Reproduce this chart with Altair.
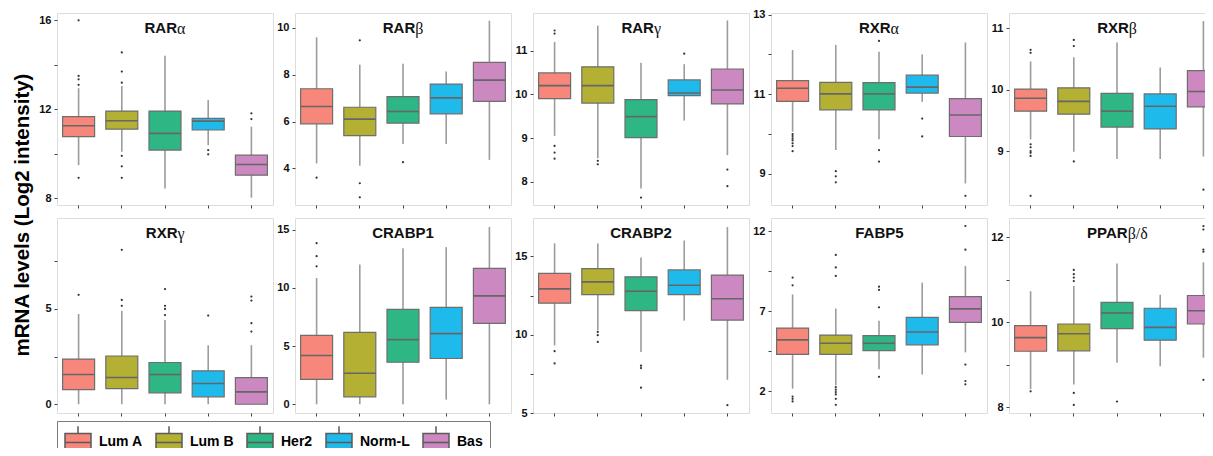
import altair as alt
import pandas as pd

subtypes = ["Lum A", "Lum B", "Her2", "Norm-L", "Bas"]
colors = ["#F7877A", "#B3B034", "#2EB684", "#1FBAEC", "#CC88C1"]

genes = ["RARα", "RARβ", "RARγ", "RXRα", "RXRβ",
         "RXRγ", "CRABP1", "CRABP2", "FABP5", "PPARβ/δ"]
# title split: Latin part (bold sans) + Greek part (serif)
title_latin = ["RAR", "RAR", "RAR", "RXR", "RXR", "RXR", "CRABP1", "CRABP2", "FABP5", "PPAR"]
title_greek = ["α", "β", "γ", "α", "β", "γ", "", "", "", "β/δ"]

y_title = "mRNA levels (Log2 intensity)"

# whisker low / Q1 / median / Q3 / whisker high, in subtype order
lo = {
    "RARα": [9.49, 10.09, 8.44, 10.39, 8.03],
    "RARβ": [4.21, 4.11, 5.04, 5.04, 4.36],
    "RARγ": [9.05, 8.54, 7.85, 9.40, 8.61],
    "RXRα": [10.06, 9.60, 9.87, 10.81, 8.76],
    "RXRβ": [9.19, 8.99, 8.87, 8.87, 8.91],
    "RXRγ": [0.0, 0.0, 0.0, 0.0, 0.0],
    "CRABP1": [0.0, 0.0, 0.0, 0.4, 0.0],
    "CRABP2": [9.32, 10.29, 8.89, 10.90, 7.12],
    "FABP5": [2.17, 2.38, 3.39, 3.05, 4.44],
    "PPARβ/δ": [8.43, 8.54, 9.05, 8.97, 9.17],
}
q1 = {
    "RARα": [10.77, 11.11, 10.17, 11.07, 9.04],
    "RARβ": [5.90, 5.40, 5.93, 6.33, 6.86],
    "RARγ": [9.90, 9.80, 9.01, 9.97, 9.78],
    "RXRα": [10.82, 10.61, 10.61, 11.03, 9.94],
    "RXRβ": [9.65, 9.60, 9.39, 9.36, 9.72],
    "RXRγ": [0.77, 0.82, 0.60, 0.39, 0.0],
    "CRABP1": [2.14, 0.64, 3.61, 3.93, 6.94],
    "CRABP2": [12.02, 12.56, 11.54, 12.56, 10.94],
    "FABP5": [4.32, 4.32, 4.55, 4.91, 6.32],
    "PPARβ/δ": [9.32, 9.33, 9.85, 9.58, 9.96],
}
med = {
    "RARα": [11.26, 11.49, 10.92, 11.47, 9.52],
    "RARβ": [6.64, 6.10, 6.43, 7.01, 7.77],
    "RARγ": [10.20, 10.20, 9.49, 10.03, 10.10],
    "RXRα": [11.15, 11.01, 11.01, 11.18, 10.48],
    "RXRβ": [9.86, 9.81, 9.65, 9.73, 9.97],
    "RXRγ": [1.56, 1.40, 1.56, 1.09, 0.65],
    "CRABP1": [4.19, 2.66, 5.55, 6.07, 9.31],
    "CRABP2": [12.93, 13.38, 12.78, 13.16, 12.30],
    "FABP5": [5.22, 5.01, 5.01, 5.71, 7.16],
    "PPARβ/δ": [9.64, 9.73, 10.22, 9.88, 10.27],
}
q3 = {
    "RARα": [11.67, 11.92, 11.92, 11.59, 9.94],
    "RARβ": [7.40, 6.61, 7.06, 7.60, 8.53],
    "RARγ": [10.49, 10.63, 9.88, 10.33, 10.58],
    "RXRα": [11.34, 11.30, 11.29, 11.48, 10.89],
    "RXRβ": [10.01, 10.03, 9.94, 9.93, 10.31],
    "RXRγ": [2.37, 2.53, 2.19, 1.75, 1.40],
    "CRABP1": [5.92, 6.18, 8.15, 8.32, 11.68],
    "CRABP2": [13.92, 14.22, 13.70, 14.14, 13.81],
    "FABP5": [5.96, 5.52, 5.49, 6.63, 7.92],
    "PPARβ/δ": [9.92, 9.96, 10.47, 10.33, 10.63],
}
hi = {
    "RARα": [12.95, 13.05, 14.41, 12.42, 11.22],
    "RARβ": [9.60, 8.43, 8.47, 8.14, 10.31],
    "RARγ": [11.20, 11.57, 10.72, 10.69, 11.69],
    "RXRα": [12.11, 12.24, 12.07, 12.00, 12.30],
    "RXRβ": [10.46, 10.53, 10.77, 10.36, 11.12],
    "RXRγ": [4.74, 4.91, 4.42, 3.10, 3.10],
    "CRABP1": [10.84, 12.00, 13.41, 13.50, 15.23],
    "CRABP2": [15.84, 15.84, 14.94, 16.02, 16.88],
    "FABP5": [8.06, 7.18, 6.42, 8.80, 9.85],
    "PPARβ/δ": [10.73, 10.85, 11.38, 10.65, 11.41],
}
outliers = {
    "RARα": [[16.0, 13.5, 13.35, 13.1, 8.92], [14.56, 13.7, 13.2, 9.91, 9.44, 8.92], [], [10.17, 9.98], [11.82, 11.56]],
    "RARβ": [[3.6], [9.47, 3.36, 2.76], [4.26], [], []],
    "RARγ": [[11.46, 11.39, 8.82, 8.67, 8.53], [8.48, 8.4], [7.64], [10.93], [8.28, 7.9]],
    "RXRα": [[10.0, 9.95, 9.89, 9.84, 9.77, 9.7, 9.57], [9.07, 8.94, 8.79], [12.34, 9.6, 9.31], [10.39, 9.94], [8.45]],
    "RXRβ": [[10.65, 10.6, 9.11, 9.06, 9.0, 8.97, 8.92, 8.27], [10.81, 10.71, 8.83], [], [], [8.37]],
    "RXRγ": [[5.74], [8.1, 5.47, 5.16], [6.04, 5.16, 5.0, 4.68], [4.65], [5.65, 5.44, 4.25, 3.81]],
    "CRABP1": [[13.84, 12.72, 11.85], [], [], [], []],
    "CRABP2": [[8.95, 8.17], [10.18, 9.97, 9.54], [8.02, 7.87, 6.62], [], [5.5]],
    "FABP5": [[9.12, 8.63, 1.68, 1.54, 1.37], [10.53, 9.75, 9.22, 2.27, 2.11, 1.96, 1.81, 1.54, 1.16],
              [8.55, 8.34, 7.26, 2.91], [], [12.34, 10.86, 3.68, 2.65, 2.44]],
    "PPARβ/δ": [[8.38], [11.23, 11.13, 11.05, 10.97, 8.34, 8.06], [8.14], [], [12.26, 12.18, 11.71, 11.66, 8.65]],
}

domains = {
    "RARα": [7.7, 16.33], "RARβ": [2.43, 10.64], "RARγ": [7.47, 11.86],
    "RXRα": [8.22, 13.04], "RXRβ": [8.12, 11.25], "RXRγ": [-0.46, 9.77],
    "CRABP1": [-0.75, 16.0], "CRABP2": [5.0, 17.46], "FABP5": [0.65, 12.84],
    "PPARβ/δ": [7.87, 12.45],
}
tick_values = {
    "RARα": [8, 10, 12, 14, 16], "RARβ": [4, 6, 8, 10], "RARγ": [8, 9, 10, 11],
    "RXRα": [9, 10, 11, 12, 13], "RXRβ": [9, 10, 11], "RXRγ": [0, 2.5, 5, 7.5],
    "CRABP1": [0, 5, 10, 15], "CRABP2": [5, 7.5, 10, 12.5, 15],
    "FABP5": [2, 4.5, 7, 9.5, 12], "PPARβ/δ": [8, 9, 10, 11, 12],
}
tick_labels = {
    "RARα": [8, 12, 16], "RARβ": [4, 6, 8, 10], "RARγ": [8, 9, 10, 11],
    "RXRα": [9, 11, 13], "RXRβ": [9, 10, 11], "RXRγ": [0, 5],
    "CRABP1": [0, 5, 10, 15], "CRABP2": [5, 10, 15],
    "FABP5": [2, 7, 12], "PPARβ/δ": [8, 10, 12],
}

FONT = "Liberation Sans"
GFONT = "Liberation Serif"
W = 216
ROW_H = [192, 195]
TFS, GFS = 15, 16

# approximate advance widths (em) used only to centre the two-part titles
BOLD_W = {"R": .722, "A": .722, "X": .667, "P": .667, "C": .722, "B": .722,
          "F": .611, "1": .556, "2": .556, "5": .556}
SERIF_W = {"α": .53, "β": .50, "γ": .42, "δ": .49, "/": .28}

legend = alt.Legend(
    orient="none", legendX=0, legendY=408, direction="horizontal", columns=5,
    title=None,
    symbolType="M-1,-0.69H1V0.69H-1Z M-1,0H1 M0,-0.69V-1.25 M0,0.69V1.25",
    symbolSize=676, symbolStrokeColor="#5a5a5a", symbolStrokeWidth=1.5,
    symbolOpacity=1,
    labelFont=FONT, labelFontSize=14, labelFontWeight="bold", labelColor="black",
    labelOffset=7, columnPadding=10, padding=7,
    strokeColor="#7a7a7a", fillColor="white",
)


def panel(i):
    g = genes[i]
    H = ROW_H[i // 5]
    box = pd.DataFrame({"subtype": subtypes, "lo": lo[g], "q1": q1[g],
                        "med": med[g], "q3": q3[g], "hi": hi[g]})
    rows = [(s, v) for s, vals in zip(subtypes, outliers[g]) for v in vals]
    outs = pd.DataFrame(rows, columns=["subtype", "value"])
    labs = ",".join(str(v) for v in tick_labels[g])
    x = alt.X("subtype:N", scale=alt.Scale(domain=subtypes),
              axis=alt.Axis(labels=False, title=None, domain=False, ticks=True,
                            tickSize=3, tickColor="#444", grid=False))
    ys = alt.Scale(domain=domains[g], nice=False, zero=False)
    ya = alt.Axis(values=tick_values[g], title=None, grid=False, domain=False,
                  tickSize=3, tickColor="#444", labelFontWeight="bold",
                  labelFontSize=11, labelFont=FONT, labelColor="#111",
                  labelPadding=3,
                  labelExpr="indexof([" + labs + "], datum.value) >= 0 ? datum.label : ''")
    base = alt.Chart(box)
    whisk = base.mark_rule(color="#9c9c9c", strokeWidth=1.6).encode(
        x=x, y=alt.Y("lo:Q", scale=ys, axis=ya), y2="hi:Q")
    bars = base.mark_bar(size=32, stroke="#6e6e6e", strokeWidth=1.2).encode(
        x=x, y=alt.Y("q1:Q", scale=ys, axis=ya), y2="q3:Q",
        color=alt.Color("subtype:N", scale=alt.Scale(domain=subtypes, range=colors),
                        legend=legend if i == 0 else None))
    mline = base.mark_tick(size=32, thickness=1.6, color="#666666", opacity=1).encode(
        x=x, y=alt.Y("med:Q", scale=ys, axis=ya))
    pts = alt.Chart(outs).mark_circle(size=5, color="#333333", opacity=1).encode(
        x=x, y=alt.Y("value:Q", scale=ys, axis=ya))

    lat, grk = title_latin[i], title_greek[i]
    wl = sum(BOLD_W.get(c, .6) for c in lat) * TFS
    wg = sum(SERIF_W.get(c, .5) for c in grk) * GFS
    xs = W / 2 + (wl - wg) / 2
    t1 = alt.Chart(pd.DataFrame({"name": [lat]})).mark_text(
        font=FONT, fontSize=TFS, fontWeight="bold", color="#111", baseline="middle",
        align="right").encode(x=alt.value(xs), y=alt.value(15), text="name:N")
    layers = [whisk, bars, mline, pts, t1]
    if grk:
        t2 = alt.Chart(pd.DataFrame({"name": [grk]})).mark_text(
            font=GFONT, fontSize=GFS, fontWeight="normal", color="#111",
            baseline="middle", align="left").encode(
            x=alt.value(xs), y=alt.value(16), text="name:N")
        layers.append(t2)
    if i == 0:
        yt = alt.Chart(pd.DataFrame({"t": [y_title]})).mark_text(
            font=FONT, fontSize=20.5, fontWeight="bold", color="black", angle=270,
            baseline="middle", align="center").encode(
            x=alt.value(-34), y=alt.value(202), text="t:N")
        layers.append(yt)
    return alt.layer(*layers).properties(width=W, height=H)


chart = alt.concat(*[panel(i) for i in range(10)], columns=5,
                   spacing={"row": 13, "column": 22}, bounds="flush").properties(
    autosize=alt.AutoSizeParams(type="none"),
    padding={"left": 49, "top": 5, "right": 1148, "bottom": 435},
).configure_view(stroke="#9a9a9a", strokeWidth=1.5).configure(background="white")

chart.save("out.html", embed_options={"renderer": "svg", "actions": False})
